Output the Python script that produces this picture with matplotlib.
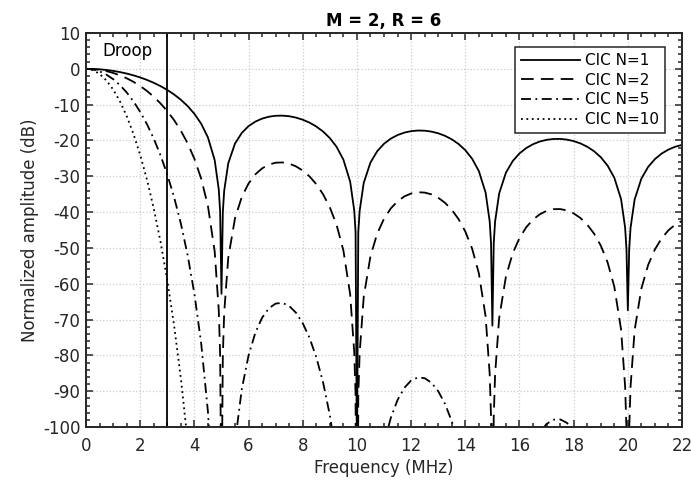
import numpy as np
import matplotlib.pyplot as plt
from matplotlib.ticker import MultipleLocator

plt.rcParams['font.family'] = ['DejaVu Sans']
plt.rcParams['axes.unicode_minus'] = False

# frequency grid (MHz), extra points around the nulls
freq = [0, 0.25, 0.5, 0.75, 1, 1.25, 1.5, 1.75, 2, 2.25, 2.5, 2.75, 3, 3.25, 3.5, 3.75,
        4, 4.25, 4.5, 4.75, 4.9, 4.95, 5, 5.05, 5.1, 5.25, 5.5, 5.75,
        6, 6.25, 6.5, 6.75, 7, 7.25, 7.5, 7.75, 8, 8.25, 8.5, 8.75,
        9, 9.25, 9.5, 9.75, 9.9, 9.95, 10, 10.05, 10.1, 10.25, 10.5, 10.75,
        11, 11.25, 11.5, 11.75, 12, 12.25, 12.5, 12.75, 13, 13.25, 13.5, 13.75,
        14, 14.25, 14.5, 14.75, 14.9, 14.95, 15, 15.05, 15.1, 15.25, 15.5, 15.75,
        16, 16.25, 16.5, 16.75, 17, 17.25, 17.5, 17.75, 18, 18.25, 18.5, 18.75,
        19, 19.25, 19.5, 19.75, 19.9, 19.95, 20, 20.05, 20.1, 20.25, 20.5, 20.75,
        21, 21.25, 21.5, 21.75, 22]

cic_n1 = [0, -0.04, -0.14, -0.32, -0.58, -0.91, -1.32, -1.82, -2.41, -3.10, -3.90, -4.83, -5.91, -7.16, -8.64, -10.40,
          -12.56, -15.32, -19.15, -25.52, -33.71, -39.82, -62.8, -39.99, -34.05, -26.37, -20.85, -17.89,
          -16.00, -14.74, -13.90, -13.37, -13.11, -13.07, -13.24, -13.62, -14.21, -15.02, -16.11, -17.51,
          -19.34, -21.80, -25.36, -31.48, -39.53, -45.58, -110, -45.66, -39.68, -31.87, -26.15, -22.99,
          -20.92, -19.49, -18.49, -17.81, -17.40, -17.23, -17.27, -17.53, -18.00, -18.70, -19.68, -20.98,
          -22.71, -25.08, -28.54, -34.57, -42.57, -48.61, -71.7, -48.65, -42.66, -34.80, -29.00, -25.76,
          -23.62, -22.12, -21.05, -20.30, -19.83, -19.59, -19.57, -19.77, -20.18, -20.83, -21.75, -22.99,
          -24.67, -26.99, -30.40, -36.38, -44.35, -50.38, -67.4, -50.41, -44.40, -36.51, -30.66, -27.38,
          -25.20, -23.65, -22.54, -21.75, -21.24]

cic_n2 = [0, -0.07, -0.28, -0.64, -1.15, -1.81, -2.64, -3.63, -4.81, -6.19, -7.80, -9.66, -11.81, -14.32, -17.28, -20.80,
          -25.12, -30.64, -38.30, -51.04, -67.43, -79.63, -125.6, -79.97, -68.11, -52.74, -41.70, -35.77,
          -32.00, -29.47, -27.79, -26.74, -26.21, -26.14, -26.48, -27.24, -28.41, -30.05, -32.21, -35.02,
          -38.68, -43.61, -50.71, -62.95, -79.05, -91.16, -220, -91.32, -79.37, -63.74, -52.29, -45.98,
          -41.84, -38.98, -36.98, -35.62, -34.81, -34.46, -34.55, -35.05, -35.99, -37.40, -39.35, -41.95,
          -45.42, -50.16, -57.08, -69.14, -85.14, -97.22, -143.4, -97.31, -85.32, -69.60, -57.99, -51.52,
          -47.24, -44.23, -42.09, -40.61, -39.66, -39.19, -39.15, -39.53, -40.36, -41.65, -43.49, -45.98,
          -49.34, -53.98, -60.80, -72.76, -88.70, -100.76, -134.8, -100.81, -88.81, -73.02, -61.32, -54.76,
          -50.40, -47.30, -45.07, -43.50, -42.47]

cic_n5 = [0, -0.18, -0.71, -1.61, -2.88, -4.53, -6.59, -9.08, -12.03, -15.48, -19.49, -24.15, -29.54, -35.81, -43.19, -52.0,
          -62.79, -76.60, -95.74, -127.6, -168.6, -199.1, -314, -199.9, -170.3, -131.9, -104.3, -89.43,
          -80.0, -73.68, -69.48, -66.85, -65.54, -65.35, -66.21, -68.09, -71.03, -75.12, -80.53, -87.54,
          -96.71, -109.0, -126.8, -157.4, -197.6, -227.9, -550, -228.3, -198.4, -159.4, -130.7, -114.9,
          -104.6, -97.45, -92.44, -89.06, -87.02, -86.16, -86.37, -87.64, -89.99, -93.51, -98.38, -104.9,
          -113.6, -125.4, -142.7, -172.9, -212.9, -243.0, -358, -243.3, -213.3, -174.0, -145.0, -128.8,
          -118.1, -110.6, -105.2, -101.5, -99.15, -97.97, -97.87, -98.84, -100.9, -104.1, -108.7, -115.0,
          -123.4, -134.9, -152.0, -181.9, -221.8, -251.9, -337, -252.0, -222.0, -182.6, -153.3, -136.9,
          -126.0, -118.2, -112.7, -108.7, -106.2]

cic_n10 = [0, -0.36, -1.42, -3.22, -5.76, -9.06, -13.18, -18.15, -24.05, -30.95, -38.98, -48.29, -59.07, -71.62, -86.38, -103.99,
           -125.6, -153.2, -191.5, -255.2, -337.1, -398.2, -628, -399.9, -340.5, -263.7, -208.5, -178.9,
           -160.0, -147.4, -139.0, -133.7, -131.1, -130.7, -132.4, -136.2, -142.1, -150.2, -161.1, -175.1,
           -193.4, -218.0, -253.6, -314.8, -395.3, -455.8, -1100, -456.6, -396.8, -318.7, -261.5, -229.9,
           -209.2, -194.9, -184.9, -178.1, -174.0, -172.3, -172.7, -175.3, -180.0, -187.0, -196.8, -209.8,
           -227.1, -250.8, -285.4, -345.7, -425.7, -486.1, -717, -486.5, -426.6, -348.0, -290.0, -257.6,
           -236.2, -221.2, -210.5, -203.0, -198.3, -195.9, -195.7, -197.7, -201.8, -208.3, -217.5, -229.9,
           -246.7, -269.9, -304.0, -363.8, -443.5, -503.8, -674, -504.1, -444.0, -365.1, -306.6, -273.8,
           -252.0, -236.5, -225.4, -217.5, -212.4]

labels = ['CIC N=1', 'CIC N=2', 'CIC N=5', 'CIC N=10']
droop_freq = 3

fig = plt.figure(figsize=(6.91, 4.86), dpi=100)
ax = fig.add_axes([0.1245, 0.1214, 0.8625, 0.8107])

lw = 1.3
ax.plot(freq, cic_n1, color='black', lw=lw, linestyle='-', label=labels[0])
ax.plot(freq, cic_n2, color='black', lw=lw, linestyle=(0, (7, 4)), label=labels[1])
ax.plot(freq, cic_n5, color='black', lw=lw, linestyle=(0, (5.5, 2.5, 1, 2.5)), label=labels[2])
ax.plot(freq, cic_n10, color='black', lw=lw, linestyle=(0, (1, 2)), label=labels[3])

ax.axvline(droop_freq, color='black', lw=lw)
ax.text(0.6, 5, 'Droop', ha='left', va='center', fontsize=12)

ax.set_xlim(0, 22)
ax.set_ylim(-100, 10)
ax.xaxis.set_major_locator(MultipleLocator(2))
ax.xaxis.set_minor_locator(MultipleLocator(0.5))
ax.yaxis.set_major_locator(MultipleLocator(10))
ax.yaxis.set_minor_locator(MultipleLocator(2))
ax.tick_params(which='both', direction='in', top=True, right=True, labelsize=12, colors='#262626', width=1.1)
ax.tick_params(which='major', length=5)
ax.tick_params(which='minor', length=3)
ax.tick_params(axis='x', which='major', pad=7)
ax.tick_params(axis='y', which='major', pad=4)
for s in ax.spines.values():
    s.set_linewidth(1.4)
    s.set_color('#262626')

ax.grid(True, which='major', linestyle=':', color='#cccccc', lw=0.9)
ax.set_axisbelow(True)

ax.set_xlabel('Frequency (MHz)', fontsize=12, color='#262626', labelpad=3)
ax.set_ylabel('Normalized amplitude (dB)', fontsize=12, color='#262626', labelpad=3)
ax.set_title('M = 2, R = 6', fontsize=12, fontweight='bold', pad=5)

leg = ax.legend(loc='upper right', bbox_to_anchor=(0.9715, 0.9645), fontsize=11,
                handlelength=3.85, handletextpad=0.33, labelspacing=0.3, borderpad=0.4,
                fancybox=False, framealpha=1, edgecolor='#262626', borderaxespad=0)
leg.get_frame().set_linewidth(1.1)

fig.savefig('out.png', dpi=100)
